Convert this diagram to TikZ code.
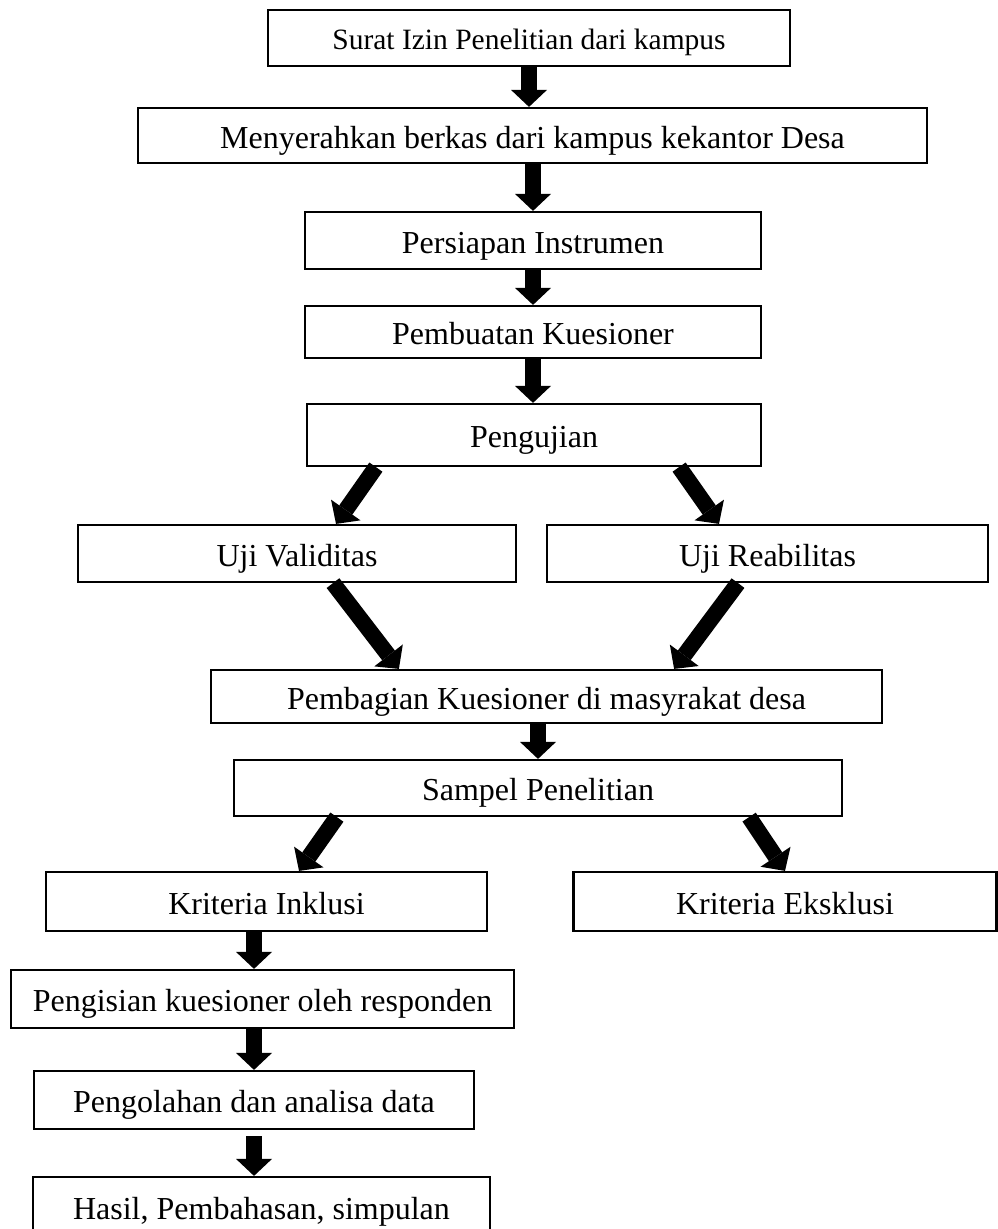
\documentclass[tikz,border=0pt]{standalone}
\usepackage{fontspec}
\setmainfont{Liberation Serif}
\usetikzlibrary{arrows.meta}
\tikzset{
  box/.style={draw, line width=2.2pt, rectangle, inner sep=0pt,
    font=\fontsize{32}{38}\selectfont, text height=27pt, text depth=2pt},
  blk/.style={line width=16pt, -{Triangle[length=17pt, width=36pt, line width=0pt]}},
}
\begin{document}
\begin{tikzpicture}[x=1pt,y=-1pt]
\useasboundingbox (0,0) rectangle (998,1229);
\clip (0,0) rectangle (998,1229);
\node[box, minimum width=522pt, minimum height=56pt, font=\fontsize{29.5}{34}\selectfont, text height=25pt, text depth=2pt] (b1) at (529,38) {Surat Izin Penelitian dari kampus};
\node[box, minimum width=789pt, minimum height=55pt] (b2) at (532.5,135.5) {Menyerahkan berkas dari kampus kekantor Desa};
\node[box, minimum width=456pt, minimum height=57pt] (b3) at (533,240.5) {Persiapan Instrumen};
\node[box, minimum width=456pt, minimum height=52pt] (b4) at (533,332) {Pembuatan Kuesioner};
\node[box, minimum width=454pt, minimum height=62pt] (b5) at (534,435) {Pengujian};
\node[box, minimum width=438pt, minimum height=57pt] (b6) at (297,553.5) {Uji Validitas};
\node[box, minimum width=441pt, minimum height=57pt] (b7) at (767.5,553.5) {Uji Reabilitas};
\node[box, minimum width=671pt, minimum height=53pt] (b8) at (546.5,696.5) {Pembagian Kuesioner di masyrakat desa};
\node[box, minimum width=608pt, minimum height=56pt] (b9) at (538,788) {Sampel Penelitian};
\node[box, minimum width=441pt, minimum height=59pt] (b10) at (266.5,901.5) {Kriteria Inklusi};
\node[box, minimum width=423pt, minimum height=59pt] (b11) at (785,901.5) {Kriteria Eksklusi};
\node[box, minimum width=503pt, minimum height=58pt] (b12) at (262.5,999) {Pengisian kuesioner oleh responden};
\node[box, minimum width=440pt, minimum height=58pt] (b13) at (254,1100) {Pengolahan dan analisa data};
\node[box, minimum width=457pt, minimum height=60pt] (b14) at (261.5,1207) {Hasil, Pembahasan, simpulan};
% vertical arrows
\draw[blk] (b1.south) -- (b1.south |- b2.north);
\draw[blk] (b2.south -| b3.north) -- (b3.north);
\draw[blk] (b3.south) -- (b4.north);
\draw[blk] (b4.south) -- (b4.south |- b5.north);
\draw[blk] (b8.south -| b9.north) -- (b9.north);
\draw[blk] (b10.south -| b13.north) -- (b12.north -| b13.north);
\draw[blk] (b12.south -| b13.north) -- (b13.north);
\draw[blk] ([yshift=-6pt]b13.south) -- (b13.south |- b14.north);
% diagonal arrows
\draw[blk] ([xshift=70pt]b5.south west) -- ([xshift=39pt]b6.north);
\draw[blk] ([xshift=-83pt]b5.south east) -- ([xshift=-48.5pt]b7.north);
\draw[blk] ([xshift=36pt]b6.south) -- ([xshift=189pt]b8.north west);
\draw[blk] ([xshift=-29.5pt]b7.south) -- ([xshift=-209pt]b8.north east);
\draw[blk] ([xshift=104pt]b9.south west) -- ([xshift=32.5pt]b10.north);
\draw[blk] ([xshift=-94pt]b9.south east) -- (b11.north);
\end{tikzpicture}
\end{document}
